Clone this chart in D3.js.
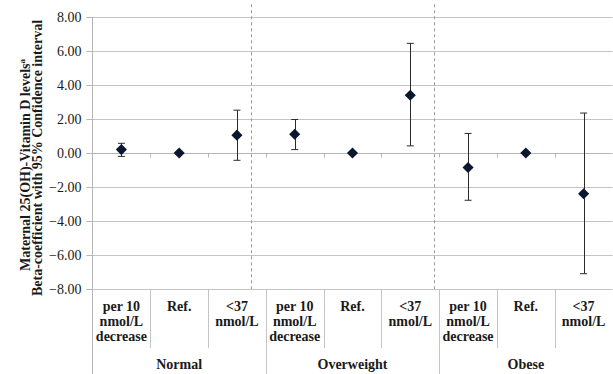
<!DOCTYPE html>
<html>
<head>
<meta charset="utf-8">
<script src="https://cdn.jsdelivr.net/npm/d3@7"></script>
<style>
  html, body { margin: 0; padding: 0; background: #fff; }
  svg { display: block; }
  text { font-family: "Liberation Serif", "Times New Roman", serif; fill: #1a1a1a; }
</style>
</head>
<body>
<svg id="chart" width="613" height="374"></svg>
<script>
// BMI groups and the three exposure categories within each group
const groups = ["Normal", "Overweight", "Obese"];
const subCategories = [["per 10", "nmol/L", "decrease"], ["Ref."], ["<37", "nmol/L"]];

// Beta-coefficients with lower / upper 95% confidence limits, in category order
const beta  = [0.20, 0.00, 1.05,  1.10, 0.00, 3.40,  -0.85, 0.00, -2.40];
const lower = [-0.20, null, -0.43, 0.20, null, 0.42, -2.78, null, -7.10];
const upper = [0.57, null, 2.52,  1.97, null, 6.45,  1.15, null, 2.35];

// y-axis ticks
const yTicks = [8, 6, 4, 2, 0, -2, -4, -6, -8];

// Dashed group dividers, in category-index units
const dividers = [2.75, 5.91];

const svg = d3.select("#chart");

const plotLeft = 92.5, plotRight = 612.5;
const y = d3.scaleLinear().domain([-8, 8]).range([289, 17]);
const xIdx = d3.scaleLinear().domain([0, 9]).range([plotLeft, plotRight]);
const catCenter = i => xIdx(i + 0.5);

// horizontal gridlines
svg.append("g").selectAll("line").data(yTicks).join("line")
  .attr("x1", plotLeft).attr("x2", plotRight)
  .attr("y1", d => Math.round(y(d)) + 0.5).attr("y2", d => Math.round(y(d)) + 0.5)
  .attr("stroke", d => d === 0 ? "#b5b5b5" : "#c4c4c4").attr("stroke-width", 1);

// small category ticks on the zero line
svg.append("g").selectAll("line").data(d3.range(1, 9)).join("line")
  .attr("x1", d => Math.round(xIdx(d)) + 0.5).attr("x2", d => Math.round(xIdx(d)) + 0.5)
  .attr("y1", Math.round(y(0)) + 0.5).attr("y2", Math.round(y(0)) + 4.5)
  .attr("stroke", "#b5b5b5");

// y axis
const yAxis = d3.axisLeft(y).tickValues(yTicks).tickSize(6).tickPadding(5)
  .tickFormat(d => d3.format(".2f")(d));
const yg = svg.append("g").attr("transform", `translate(${plotLeft},0)`).call(yAxis);
yg.select(".domain").remove();
yg.selectAll(".tick line").attr("stroke", "#b5b5b5");
yg.selectAll(".tick text").attr("font-size", "14px")
  .attr("font-family", "'Liberation Serif', serif").attr("fill", "#222");
// axis line runs down through the category label area
svg.append("line")
  .attr("x1", plotLeft).attr("x2", plotLeft).attr("y1", y(8)).attr("y2", 374)
  .attr("stroke", "#b5b5b5");

// dashed dividers between BMI groups
svg.append("g").selectAll("line").data(dividers).join("line")
  .attr("x1", d => Math.round(xIdx(d)) + 0.5).attr("x2", d => Math.round(xIdx(d)) + 0.5)
  .attr("y1", y(8.75)).attr("y2", y(-8))
  .attr("stroke", "#9a9a9a").attr("stroke-dasharray", "3,3");

// category label box
const labelTop = Math.round(y(-8)) + 0.5;
svg.append("g").selectAll("line").data(d3.range(1, 10)).join("line")
  .attr("x1", d => Math.round(xIdx(d)) + 0.5).attr("x2", d => Math.round(xIdx(d)) + 0.5)
  .attr("y1", labelTop).attr("y2", d => d % 3 === 0 ? 374 : 348)
  .attr("stroke", "#c4c4c4");

// sub-category labels
const subLabels = svg.append("g");
d3.range(9).forEach(i => {
  const lines = subCategories[i % 3];
  const t = subLabels.append("text")
    .attr("x", catCenter(i)).attr("text-anchor", "middle")
    .attr("font-size", "14px").attr("font-weight", "bold");
  lines.forEach((ln, k) => {
    t.append("tspan").attr("x", catCenter(i)).attr("y", 311 + k * 15).text(ln);
  });
});

// group labels
svg.append("g").selectAll("text").data(groups).join("text")
  .attr("x", (d, g) => xIdx(g * 3 + 1.5)).attr("y", 369)
  .attr("text-anchor", "middle").attr("font-size", "14px").attr("font-weight", "bold")
  .text(d => d);

// y-axis title, two rotated lines
const title1 = svg.append("text")
  .attr("transform", `translate(30,165) rotate(-90)`)
  .attr("text-anchor", "middle").attr("font-size", "14px").attr("font-weight", "bold");
title1.append("tspan").text("Maternal 25(OH)-Vitamin D levels");
title1.append("tspan").attr("font-size", "9px").attr("dy", "-5").text("a");
svg.append("text")
  .attr("transform", `translate(42,158) rotate(-90)`)
  .attr("text-anchor", "middle").attr("font-size", "14px").attr("font-weight", "bold")
  .text("Beta-coefficient with 95% Confidence interval");

// error bars
const ciIdx = d3.range(9).filter(i => lower[i] !== null);
const eb = svg.append("g").attr("stroke", "#2b2b2b").attr("stroke-width", 1);
eb.selectAll("line.v").data(ciIdx).join("line").attr("class", "v")
  .attr("x1", i => Math.round(catCenter(i)) + 0.5).attr("x2", i => Math.round(catCenter(i)) + 0.5)
  .attr("y1", i => y(upper[i])).attr("y2", i => y(lower[i]));
eb.selectAll("line.top").data(ciIdx).join("line").attr("class", "top")
  .attr("x1", i => catCenter(i) - 3.5).attr("x2", i => catCenter(i) + 3.5)
  .attr("y1", i => y(upper[i])).attr("y2", i => y(upper[i]));
eb.selectAll("line.bot").data(ciIdx).join("line").attr("class", "bot")
  .attr("x1", i => catCenter(i) - 3.5).attr("x2", i => catCenter(i) + 3.5)
  .attr("y1", i => y(lower[i])).attr("y2", i => y(lower[i]));

// diamond markers
const diamond = d3.symbol().type(d3.symbolSquare).size(62);
svg.append("g").selectAll("path").data(beta).join("path")
  .attr("d", diamond)
  .attr("transform", (d, i) => `translate(${catCenter(i)},${y(d)}) rotate(45)`)
  .attr("fill", "#0b1630");
</script>
</body>
</html>
